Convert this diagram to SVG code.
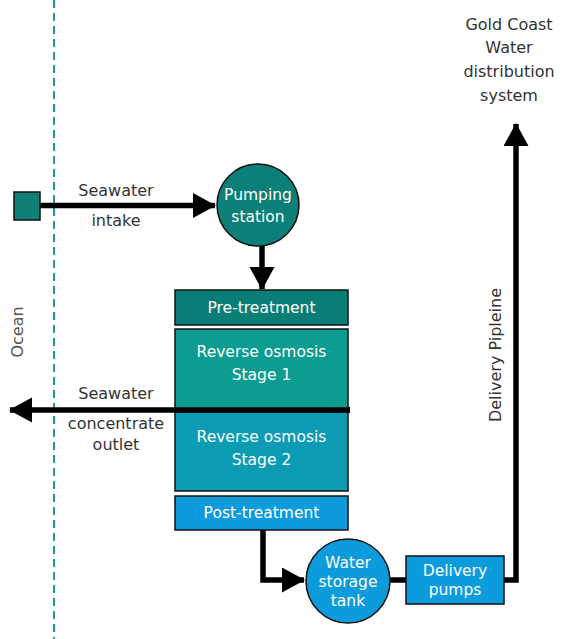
<svg xmlns="http://www.w3.org/2000/svg" width="565" height="639" viewBox="0 0 565 639">
<style>
.lbl{font-family:"DejaVu Sans",Verdana,sans-serif;font-size:16px;fill:#333;text-anchor:middle}
.nt{font-family:"DejaVu Sans",Verdana,sans-serif;font-size:15.5px;fill:#fff;text-anchor:middle}
.box{stroke:#111;stroke-width:1.5}
.wire{fill:none;stroke:#000;stroke-width:5.5}
</style>
<defs>
<marker id="ah" markerUnits="userSpaceOnUse" markerWidth="24" markerHeight="26" refX="22" refY="12.5" orient="auto">
<path d="M0,0 L23,12.5 L0,25 Z" fill="#000"/>
</marker>
</defs>
<rect width="565" height="639" fill="#fff"/>
<line x1="54" y1="0" x2="54" y2="639" stroke="#1f9a92" stroke-width="2" stroke-dasharray="8,5"/>
<text class="lbl" transform="translate(23,332) rotate(-90)" style="fill:#555">Ocean</text>
<g id="connectors">
<line class="wire" x1="40" y1="205.5" x2="215" y2="205.5" marker-end="url(#ah)"/>
<line class="wire" x1="262" y1="246" x2="262" y2="289" marker-end="url(#ah)"/>
<line class="wire" x1="350" y1="410" x2="10" y2="410" marker-end="url(#ah)"/>
<polyline class="wire" points="263,530 263,580 304,580" marker-end="url(#ah)"/>
<line class="wire" x1="389" y1="580" x2="406" y2="580"/>
<polyline class="wire" points="504,580 516,580 516,124" marker-end="url(#ah)"/>
</g>
<g id="intake"><rect class="box" x="14" y="192" width="26" height="28" fill="#0f7f77"/></g>
<g id="intake-label"><text class="lbl" x="116" y="196">Seawater</text><text class="lbl" x="116" y="226">intake</text></g>
<g id="pumping-station"><circle class="box" cx="258" cy="205" r="41" fill="#0c7f78"/>
<text class="nt" x="258" y="200">Pumping</text><text class="nt" x="258" y="222">station</text></g>
<g id="pre-treatment"><rect class="box" x="175" y="290" width="173" height="35" fill="#0b7d77"/><text class="nt" x="261.5" y="313">Pre-treatment</text></g>
<g id="ro1"><rect class="box" x="175" y="329" width="173" height="80" fill="#0d9c90"/><text class="nt" x="261.5" y="357">Reverse osmosis</text><text class="nt" x="261.5" y="380">Stage 1</text></g>
<g id="ro2"><rect class="box" x="175" y="412" width="173" height="79" fill="#0b9bb3"/><text class="nt" x="261.5" y="442">Reverse osmosis</text><text class="nt" x="261.5" y="465">Stage 2</text></g>
<line class="wire" x1="175" y1="410" x2="350" y2="410"/>
<g id="post-treatment"><rect class="box" x="175" y="496" width="173" height="34" fill="#0c9bdb"/><text class="nt" x="261.5" y="518">Post-treatment</text></g>
<g id="outlet-label"><text class="lbl" x="116" y="399">Seawater</text><text class="lbl" x="116" y="429">concentrate</text><text class="lbl" x="116" y="450">outlet</text></g>
<g id="water-storage-tank"><circle class="box" cx="348" cy="581" r="42" fill="#0c9bdb"/>
<text class="nt" x="348" y="568">Water</text><text class="nt" x="348" y="587">storage</text><text class="nt" x="348" y="606">tank</text></g>
<g id="delivery-pumps"><rect class="box" x="406" y="556" width="98" height="48" fill="#0c9bdb"/><text class="nt" x="455" y="576">Delivery</text><text class="nt" x="455" y="595">pumps</text></g>
<g id="pipeline-label"><text class="lbl" transform="translate(501,355) rotate(-90)">Delivery Pipleine</text></g>
<g id="distribution"><text class="lbl" x="509" y="30">Gold Coast</text><text class="lbl" x="509" y="53">Water</text><text class="lbl" x="509" y="77">distribution</text><text class="lbl" x="509" y="101">system</text></g>
</svg>
